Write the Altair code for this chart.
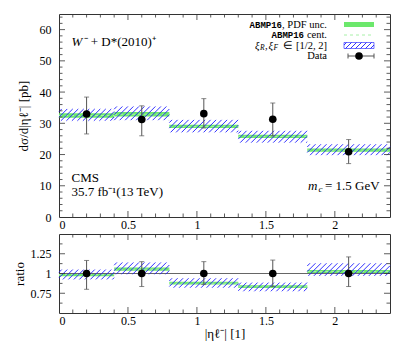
import altair as alt
import pandas as pd
import numpy as np

# ---------------- data ----------------
bin_lo = [0.0, 0.4, 0.8, 1.3, 1.8]
bin_hi = [0.4, 0.8, 1.3, 1.8, 2.4]
x_data = [0.2, 0.6, 1.05, 1.55, 2.1]

data_val = [33.0, 31.2, 33.1, 31.3, 20.9]
data_lo = [26.6, 26.0, 28.5, 26.0, 17.1]
data_hi = [38.4, 35.6, 37.9, 36.5, 24.8]

pdf_lo = [31.8, 32.2, 28.5, 25.3, 20.9]
pdf_hi = [33.2, 33.6, 29.5, 26.3, 21.9]
cent = [32.5, 32.9, 29.0, 25.8, 21.4]
scale_lo = [30.8, 31.0, 27.1, 23.8, 19.8]
scale_hi = [34.6, 35.4, 31.1, 27.6, 23.3]

r_data = [1.0, 1.0, 1.0, 1.0, 1.0]
r_data_lo = [0.80, 0.835, 0.86, 0.835, 0.835]
r_data_hi = [1.165, 1.15, 1.15, 1.17, 1.21]
r_pdf_lo = [0.965, 1.035, 0.86, 0.815, 1.005]
r_pdf_hi = [1.005, 1.075, 0.895, 0.85, 1.045]
r_cent = [0.985, 1.055, 0.877, 0.832, 1.025]
r_scale_lo = [0.925, 0.99, 0.82, 0.775, 0.97]
r_scale_hi = [1.05, 1.14, 0.94, 0.885, 1.13]

x_labels = [0, 0.5, 1, 1.5, 2]
x_major = [0.5, 1.0, 1.5, 2.0]
x_minor = [round(0.1 * i, 1) for i in range(1, 24) if i % 5 != 0]
y_labels = [0, 10, 20, 30, 40, 50, 60]
y_major = [10, 20, 30, 40, 50, 60]
y_minor = [v for v in range(2, 65, 2) if v % 10 != 0]
r_labels = [0.75, 1.0, 1.25]
r_major = [0.75, 1.0, 1.25]
r_minor = [0.625, 0.875, 1.125, 1.375]

# ---------------- layout ----------------
W, H, HR = 331, 203, 79
XMAX, YMAX = 2.4, 65
RLO, RHI = 0.5, 1.5
SERIF = "Liberation Serif"
MONO = "Liberation Mono"
GREEN = "#6ce86c"
BLUE = "#1a1aff"
GREY = "#555555"
LBL = "'' + datum.value"

xs = alt.Scale(domain=[0, XMAX], nice=False, zero=False)
ys = alt.Scale(domain=[0, YMAX], nice=False, zero=False)
rs = alt.Scale(domain=[RLO, RHI], nice=False, zero=False)

AX_X_MAIN = alt.Axis(values=x_labels, labelExpr=LBL, title=None, labelPadding=2)
AX_X_RATIO = alt.Axis(values=x_labels, labelExpr=LBL, title="|ηℓ⁻|  [1]", labelPadding=2, titlePadding=1)
AX_Y_MAIN = alt.Axis(values=y_labels, labelExpr=LBL, title="dσ/d|ηℓ⁻|  [pb]", labelPadding=8, titlePadding=9)
AX_Y_RATIO = alt.Axis(values=r_labels, labelExpr=LBL, title="ratio", labelPadding=8, titlePadding=4)


def hatch(x0s, x1s, los, his, pxx, pxy, step_px=5.5):
    rows = []
    for x0, x1, lo, hi in zip(x0s, x1s, los, his):
        hpx = (hi - lo) * pxy
        dx = hpx / pxx
        step = step_px / pxx
        for xa in np.arange(x0 - dx + step * 0.5, x1, step):
            xb = xa + dx
            sx, sy, ex, ey = xa, lo, xb, hi
            if sx < x0:
                t = (x0 - xa) / dx
                sx, sy = x0, lo + t * (hi - lo)
            if ex > x1:
                t = (x1 - xa) / dx
                ex, ey = x1, lo + t * (hi - lo)
            if ex > sx:
                rows.append({"x": sx, "y": sy, "x2": ex, "y2": ey})
    return pd.DataFrame(rows)


bins = pd.DataFrame({"lo": bin_lo, "hi": bin_hi, "pl": pdf_lo, "ph": pdf_hi,
                     "c": cent, "sl": scale_lo, "sh": scale_hi,
                     "rpl": r_pdf_lo, "rph": r_pdf_hi, "rc": r_cent,
                     "rsl": r_scale_lo, "rsh": r_scale_hi})
pts = pd.DataFrame({"x": x_data, "v": data_val, "lo": data_lo, "hi": data_hi,
                    "r": r_data, "rlo": r_data_lo, "rhi": r_data_hi})
hatch_main = hatch(bin_lo, bin_hi, scale_lo, scale_hi, W / XMAX, H / YMAX)
hatch_ratio = hatch(bin_lo, bin_hi, r_scale_lo, r_scale_hi, W / XMAX, HR / (RHI - RLO))


def txt(s, x, y, align="left", font=SERIF, size=13, style="normal", weight="normal"):
    return alt.Chart(pd.DataFrame({"t": [s]})).mark_text(
        align=align, baseline="middle", font=font, fontSize=size,
        fontStyle=style, fontWeight=weight, color="black"
    ).encode(text="t:N", x=alt.value(x), y=alt.value(y))


def panel(h, yscale, ax_x, ax_y, ymaj, ymin, cols):
    X = lambda f: alt.X(f, type="quantitative", scale=xs, axis=ax_x)
    Y = lambda f: alt.Y(f, type="quantitative", scale=yscale, axis=ax_y)
    pl, ph, c, sl, sh, dv, dlo, dhi = cols
    layers = [
        alt.Chart(bins).mark_rect(color=GREEN).encode(x=X("lo"), x2="hi", y=Y(pl), y2=ph),
        alt.Chart(bins).mark_rule(color="#a8f0a8", strokeDash=[3, 3], strokeWidth=1).encode(
            x=X("lo"), x2="hi", y=Y(c)),
    ]
    hd = hatch_main if h == H else hatch_ratio
    layers.append(alt.Chart(hd).mark_rule(color=BLUE, strokeWidth=0.9).encode(
        x=X("x"), x2="x2", y=Y("y"), y2="y2"))
    layers += [
        alt.Chart(pts).mark_rule(color=GREY, strokeWidth=1).encode(x=X("x"), y=Y(dlo), y2=dhi),
        alt.Chart(pts).mark_tick(color=GREY, orient="horizontal", size=5, thickness=1).encode(
            x=X("x"), y=Y(dlo)),
        alt.Chart(pts).mark_tick(color=GREY, orient="horizontal", size=5, thickness=1).encode(
            x=X("x"), y=Y(dhi)),
        alt.Chart(pts).mark_circle(color="black", opacity=1, size=58).encode(x=X("x"), y=Y(dv)),
    ]
    # inward ticks on all four sides of the frame
    for vals, ln in ((x_major, 6), (x_minor, 3.5)):
        b = alt.Chart(pd.DataFrame({"v": vals})).mark_rule(color="#333", strokeWidth=0.8)
        layers.append(b.encode(x=X("v"), y=alt.value(h), y2=alt.value(h - ln)))
        layers.append(b.encode(x=X("v"), y=alt.value(0), y2=alt.value(ln)))
    for vals, ln in ((ymaj, 6), (ymin, 3.5)):
        b = alt.Chart(pd.DataFrame({"v": vals})).mark_rule(color="#333", strokeWidth=0.8)
        layers.append(b.encode(y=Y("v"), x=alt.value(0), x2=alt.value(ln)))
        layers.append(b.encode(y=Y("v"), x=alt.value(W), x2=alt.value(W - ln)))
    return layers, Y


# ---------------- main panel ----------------
main_layers, Ym = panel(H, ys, AX_X_MAIN, AX_Y_MAIN, y_major, y_minor,
                        ("pl", "ph", "c", "sl", "sh", "v", "lo", "hi"))

LX0, LX1 = 285, 315
rows_y = [10.5, 21, 31.5, 42]
FS = 10.5
one = pd.DataFrame({"a": [0]})
leg = [
    txt("ABMP16", 223, rows_y[0], align="right", font=MONO, size=9, weight="bold"),
    txt(", PDF unc.", 268, rows_y[0], align="right", size=FS),
    txt("ABMP16", 245, rows_y[1], align="right", font=MONO, size=9, weight="bold"),
    txt(" cent.", 268, rows_y[1], align="right", size=FS),
    txt("ξ", 196, rows_y[2], style="italic", size=FS),
    txt("R", 201, rows_y[2] + 2.5, style="italic", size=7.5),
    txt(",", 206, rows_y[2], size=FS),
    txt("ξ", 209.5, rows_y[2], style="italic", size=FS),
    txt("F", 214.5, rows_y[2] + 2.5, style="italic", size=7.5),
    txt("∈ [1/2, 2]", 268, rows_y[2], align="right", size=FS),
    txt("Data", 268, rows_y[3], align="right", size=FS),
    alt.Chart(one).mark_rect(color=GREEN).encode(
        x=alt.value(LX0), x2=alt.value(LX1), y=alt.value(rows_y[0] - 2.5), y2=alt.value(rows_y[0] + 2.5)),
    alt.Chart(one).mark_rule(color="#a8f0a8", strokeDash=[3, 3]).encode(
        x=alt.value(LX0), x2=alt.value(LX1), y=alt.value(rows_y[1])),
    alt.Chart(one).mark_rect(fill="white", stroke=BLUE, strokeWidth=0.6).encode(
        x=alt.value(LX0), x2=alt.value(LX1), y=alt.value(rows_y[2] - 3), y2=alt.value(rows_y[2] + 3)),
    alt.Chart(hatch([LX0], [LX1], [rows_y[2] + 3], [rows_y[2] - 3], 1, -1, 5.0)).mark_rule(
        color=BLUE, strokeWidth=0.9).encode(
        x=alt.X("x:Q", scale=None), x2="x2:Q", y=alt.Y("y:Q", scale=None), y2="y2:Q"),
    alt.Chart(one).mark_rule(color=GREY).encode(
        x=alt.value(LX0 + 4), x2=alt.value(LX1), y=alt.value(rows_y[3])),
    alt.Chart(one).mark_rule(color=GREY).encode(
        x=alt.value(LX0 + 4), y=alt.value(rows_y[3] - 2.5), y2=alt.value(rows_y[3] + 2.5)),
    alt.Chart(one).mark_rule(color=GREY).encode(
        x=alt.value(LX1), y=alt.value(rows_y[3] - 2.5), y2=alt.value(rows_y[3] + 2.5)),
    alt.Chart(one).mark_circle(color="black", opacity=1, size=58).encode(
        x=alt.value(300), y=alt.value(rows_y[3])),
]

notes = [
    txt("W", 12.5, 28, style="italic"),
    txt("⁻ + D*(2010)⁺", 24.5, 28),
    txt("CMS", 12.5, 164),
    txt("35.7 fb⁻¹(13 TeV)", 12.5, 178),
    txt("m", 249, 172, style="italic"),
    txt("c", 259.5, 175, style="italic", size=9),
    txt("= 1.5 GeV", 266, 172),
]

main = alt.layer(*main_layers, *leg, *notes).properties(width=W, height=H)

# ---------------- ratio panel ----------------
ratio_layers, Yr = panel(HR, rs, AX_X_RATIO, AX_Y_RATIO, r_major, r_minor,
                         ("rpl", "rph", "rc", "rsl", "rsh", "r", "rlo", "rhi"))
one_line = alt.Chart(pd.DataFrame({"v": [1.0]})).mark_rule(color="#666", strokeWidth=1).encode(y=Yr("v"))
ratio = alt.layer(ratio_layers[0], one_line, *ratio_layers[1:]).properties(width=W, height=HR)

chart = alt.vconcat(main, ratio, spacing=2).properties(
    padding={"left": 4, "top": 5, "right": 5, "bottom": 0}
).configure_view(stroke="#333", strokeWidth=1).configure_axis(
    domain=False, ticks=False, grid=False,
    labelFont=SERIF, labelFontSize=12, labelColor="black",
    titleFont=SERIF, titleFontSize=13, titleFontWeight="normal", titleColor="black"
)

chart.save("out.html", embed_options={"renderer": "svg", "actions": False})
